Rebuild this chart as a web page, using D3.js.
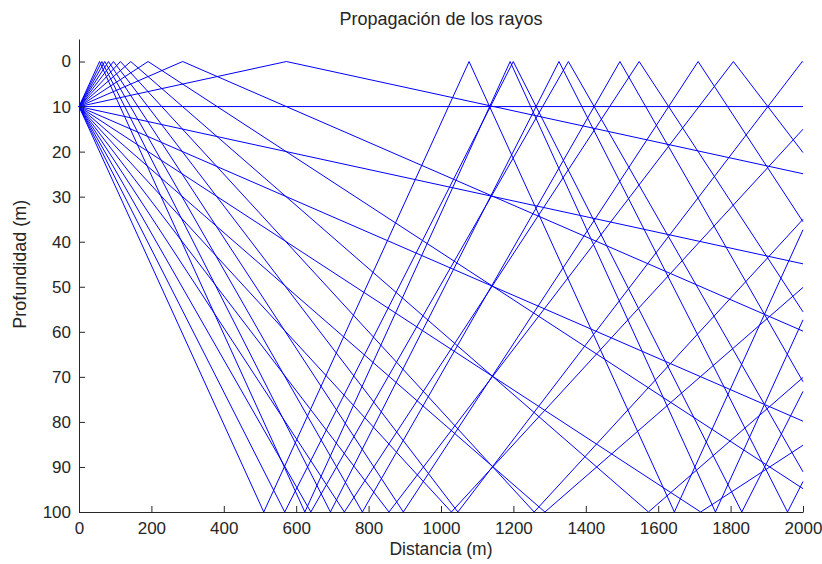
<!DOCTYPE html>
<html>
<head>
<meta charset="utf-8">
<script src="https://cdn.jsdelivr.net/npm/d3@7"></script>
<style>
  body { margin: 0; background: #fff; }
  text { font-family: "Liberation Sans", Arial, sans-serif; fill: #262626; }
  .axis path, .axis line { stroke: #262626; }
  .ray { fill: none; stroke: #0000ff; stroke-width: 1; }
</style>
</head>
<body>
<div id="rays"></div>
<script>
// launch angles of the rays (degrees, positive = towards the surface)
var launchAngles = [-10, -9, -8, -7, -6, -5, -4, -3, -2, -1, 0, 1, 2, 3, 4, 5, 6, 7, 8, 9, 10];
var sourcePos = [0, 10];          // distance (m), depth (m)
var surfaceDepth = 0;
var bottomDepth = 100;
var maxRange = 2000;
var xTicks = [0, 200, 400, 600, 800, 1000, 1200, 1400, 1600, 1800, 2000];
var yTicks = [0, 10, 20, 30, 40, 50, 60, 70, 80, 90, 100];

var width = 822, height = 564;
var margin = { left: 79, right: 19, top: 39, bottom: 52 };
var w = width - margin.left - margin.right;
var h = height - margin.top - margin.bottom;

// follow a ray, bouncing between the surface and the bottom
function traceRay(angle) {
  var pts = [sourcePos.slice()];
  var x = sourcePos[0], z = sourcePos[1];
  var slope = -Math.tan(angle * Math.PI / 180);
  while (x < maxRange) {
    if (slope === 0) { pts.push([maxRange, z]); break; }
    var zb = slope < 0 ? surfaceDepth : bottomDepth;
    var xHit = x + (zb - z) / slope;
    if (xHit >= maxRange) {
      pts.push([maxRange, z + slope * (maxRange - x)]);
      break;
    }
    x = xHit; z = zb;
    pts.push([x, z]);
    slope = -slope;
  }
  return pts;
}

var x = d3.scaleLinear().domain([0, maxRange]).range([0, w]);
var y = d3.scaleLinear().domain([-5, bottomDepth]).range([0, h]);

var svg = d3.select('#rays')
  .append('svg')
  .attr('width', width)
  .attr('height', height)
  .append('g')
  .attr('transform', 'translate(' + margin.left + ',' + margin.top + ')');

// rays
var line = d3.line()
  .x(function(d) { return x(d[0]); })
  .y(function(d) { return y(d[1]); });
svg.selectAll('.ray')
  .data(launchAngles.map(traceRay))
  .enter().append('path')
  .attr('class', 'ray')
  .attr('d', line);

// x axis (ticks pointing inwards)
var xAxis = d3.axisBottom(x)
  .tickValues(xTicks)
  .tickFormat(d3.format('d'))
  .tickSizeInner(-6)
  .tickSizeOuter(0)
  .tickPadding(10);
svg.append('g')
  .attr('class', 'axis')
  .attr('transform', 'translate(0,' + h + ')')
  .call(xAxis)
  .call(function(g) { g.selectAll('text').style('font-size', '17px'); });

// y axis
var yAxis = d3.axisLeft(y)
  .tickValues(yTicks)
  .tickFormat(d3.format('d'))
  .tickSizeInner(-6)
  .tickSizeOuter(0)
  .tickPadding(8);
svg.append('g')
  .attr('class', 'axis')
  .call(yAxis)
  .call(function(g) { g.selectAll('text').style('font-size', '17px'); });

// labels
svg.append('text')
  .attr('x', w / 2)
  .attr('y', -14)
  .attr('text-anchor', 'middle')
  .style('font-size', '18px')
  .text('Propagación de los rayos');

svg.append('text')
  .attr('x', w / 2)
  .attr('y', h + 43)
  .attr('text-anchor', 'middle')
  .style('font-size', '17.5px')
  .text('Distancia (m)');

svg.append('text')
  .attr('transform', 'rotate(-90)')
  .attr('x', -(y(45)))
  .attr('y', -53)
  .attr('text-anchor', 'middle')
  .style('font-size', '18px')
  .text('Profundidad (m)');
</script>
</body>
</html>
